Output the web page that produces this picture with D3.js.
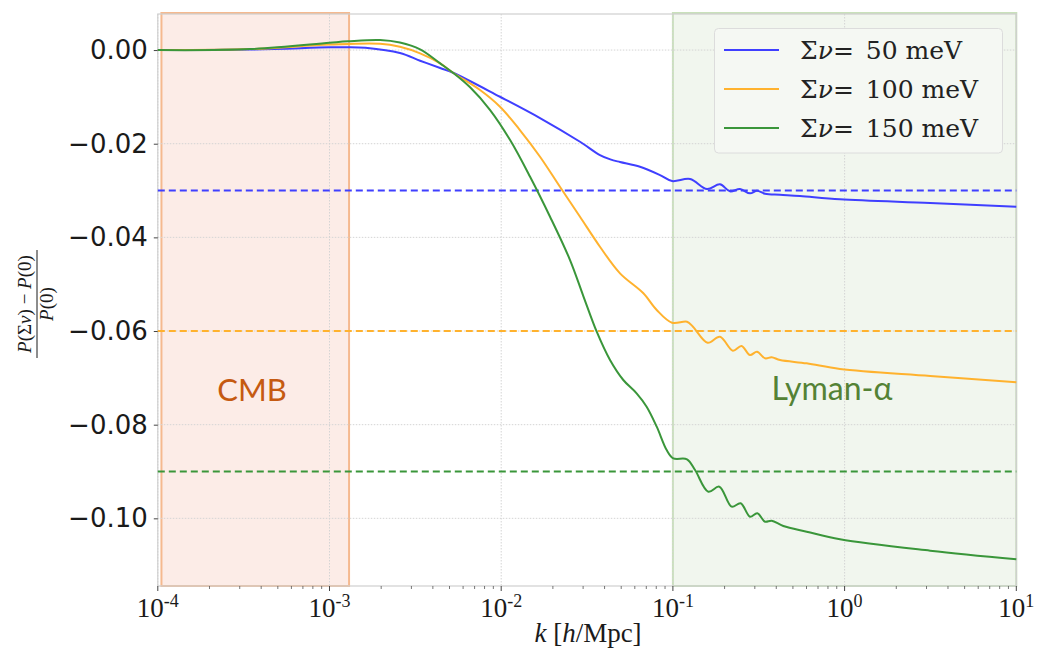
<!DOCTYPE html>
<html>
<head>
<meta charset="utf-8">
<script src="https://cdn.jsdelivr.net/npm/d3@7"></script>
<style>
  body { margin: 0; background: #fff; }
  svg { display: block; }
</style>
</head>
<body>
<svg id="chart" width="1038" height="653"></svg>
<script>
// Relative change of the matter power spectrum for three neutrino mass sums
const k50 = [1e-4, 3.44e-4, 1.0e-3, 1.28e-3, 1.62e-3, 2.57e-3, 3.37e-3, 4.41e-3, 5.24e-3, 9.84e-3, 0.01683, 0.02877, 0.0376, 0.0432, 0.0492, 0.0643, 0.0841, 0.0988, 0.1259, 0.1579, 0.188, 0.2149, 0.2459, 0.2812, 0.309, 0.3442, 0.4208, 0.55, 0.94, 3.15, 10];
const ratio50 = [0, 0.0001, 0.00058, 0.00062, 0.00047, -0.00064, -0.00228, -0.00384, -0.00485, -0.00997, -0.01452, -0.01958, -0.02242, -0.02335, -0.02391, -0.02492, -0.02669, -0.02797, -0.02754, -0.02968, -0.02867, -0.03017, -0.02968, -0.0306, -0.03004, -0.03068, -0.0309, -0.03117, -0.03188, -0.03267, -0.03346];

const k100 = [1e-4, 3.44e-4, 1.0e-3, 1.97e-3, 2.57e-3, 3.37e-3, 4.41e-3, 5.24e-3, 7.53e-3, 9.84e-3, 0.01285, 0.01683, 0.02198, 0.02877, 0.0376, 0.0492, 0.0671, 0.0805, 0.0988, 0.1208, 0.1309, 0.1593, 0.188, 0.2234, 0.251, 0.2812, 0.309, 0.3442, 0.3756, 0.4208, 0.6013, 0.94, 3.15, 10];
const ratio100 = [0, 0.0002, 0.00117, 0.00135, 0.0007, -0.0007, -0.00284, -0.00485, -0.00854, -0.01211, -0.01708, -0.02278, -0.02919, -0.0356, -0.042, -0.04768, -0.05189, -0.05552, -0.05823, -0.05801, -0.05908, -0.0625, -0.06122, -0.0642, -0.0632, -0.06512, -0.06442, -0.06583, -0.06561, -0.06619, -0.0669, -0.06811, -0.06961, -0.07095];

const k150 = [1e-4, 3.44e-4, 1.0e-3, 1.28e-3, 1.97e-3, 2.57e-3, 3.37e-3, 4.41e-3, 5.24e-3, 6.59e-3, 8.62e-3, 0.01127, 0.01473, 0.01925, 0.02517, 0.03008, 0.036, 0.04303, 0.05141, 0.06147, 0.07031, 0.0805, 0.092, 0.1005, 0.1208, 0.1346, 0.1608, 0.1863, 0.2199, 0.2481, 0.2812, 0.3101, 0.3442, 0.3756, 0.4396, 0.6013, 0.94, 3.15, 10];
const ratio150 = [0, 0.0002, 0.00156, 0.00186, 0.00214, 0.0016, 0.00015, -0.00284, -0.00485, -0.00796, -0.01281, -0.01922, -0.02705, -0.03559, -0.04484, -0.05253, -0.06015, -0.06619, -0.07046, -0.0733, -0.07616, -0.08043, -0.08541, -0.08718, -0.08739, -0.08968, -0.09431, -0.09324, -0.09751, -0.09679, -0.09965, -0.09892, -0.10072, -0.1005, -0.10163, -0.10285, -0.10448, -0.10691, -0.10875];

const massLabels = ["50 meV", "100 meV", "150 meV"];
const lineColors = ["#3f3fff", "#ffb22e", "#3a963a"];
const sensitivityLevels = [-0.03, -0.06, -0.09];

const yTickValues = [0, -0.02, -0.04, -0.06, -0.08, -0.10];
const xTickValues = [1e-4, 1e-3, 1e-2, 1e-1, 1e0, 1e1];
const xTickExponents = ["-4", "-3", "-2", "-1", "0", "1"];

const cmbRange = [1.05e-4, 1.3e-3];
const lymanRange = [0.1, 10];

const series = [
  { k: k50, r: ratio50 },
  { k: k100, r: ratio100 },
  { k: k150, r: ratio150 }
];

const svg = d3.select("#chart");
const plot = { left: 157.8, right: 1016.3, top: 14, bottom: 586 };

const x = d3.scaleLog().domain([1e-4, 10]).range([plot.left, plot.right]);
const y = d3.scaleLinear().domain([-0.11445, 0.0077]).range([plot.bottom, plot.top]);

// Shaded survey ranges
function band(range, fill, stroke) {
  svg.append("rect")
    .attr("x", x(range[0]))
    .attr("y", plot.top - 1)
    .attr("width", x(range[1]) - x(range[0]))
    .attr("height", plot.bottom - plot.top + 1)
    .attr("fill", fill)
    .attr("stroke", stroke)
    .attr("stroke-width", 2);
}
band(cmbRange, "#fcece7", "#f5b98f");
band(lymanRange, "#f1f6ee", "#c9e1bb");

// Grid
const grid = svg.append("g");
grid.selectAll("line.gx").data(xTickValues).join("line")
  .attr("x1", d => x(d)).attr("x2", d => x(d))
  .attr("y1", plot.top).attr("y2", plot.bottom)
  .attr("stroke", "#d4d4d4").attr("stroke-width", 1).attr("stroke-dasharray", "1.5,1.5");
grid.selectAll("line.gy").data(yTickValues).join("line")
  .attr("x1", plot.left).attr("x2", plot.right)
  .attr("y1", d => y(d)).attr("y2", d => y(d))
  .attr("stroke", "#d4d4d4").attr("stroke-width", 1).attr("stroke-dasharray", "1.5,1.5");

// Spines
svg.append("rect")
  .attr("x", plot.left).attr("y", plot.top)
  .attr("width", plot.right - plot.left).attr("height", plot.bottom - plot.top)
  .attr("fill", "none").attr("stroke", "#cfcfcf").attr("stroke-width", 1.2);

// Y axis
const yAxis = d3.axisLeft(y).tickValues(yTickValues).tickSize(4).tickPadding(6)
  .tickFormat(d => d3.format(".2f")(d).replace("-", "\u2212"));
const gy = svg.append("g").attr("transform", `translate(${plot.left},0)`).call(yAxis);
gy.select(".domain").remove();
gy.selectAll(".tick line").attr("stroke", "#444");
gy.selectAll(".tick text")
  .attr("font-family", "DejaVu Sans").attr("font-size", 26).attr("fill", "#1a1a1a");

// X axis: decades with minor ticks
const minorTicks = [];
for (let e = -4; e < 1; e++) for (let m = 2; m <= 9; m++) minorTicks.push(m * Math.pow(10, e));
const gx = svg.append("g").attr("transform", `translate(0,${plot.bottom})`);
gx.selectAll("line.minor").data(minorTicks).join("line")
  .attr("x1", d => x(d)).attr("x2", d => x(d)).attr("y1", 0).attr("y2", 3)
  .attr("stroke", "#555").attr("stroke-width", 0.8);
gx.selectAll("line.major").data(xTickValues).join("line")
  .attr("x1", d => x(d)).attr("x2", d => x(d)).attr("y1", 0).attr("y2", 5)
  .attr("stroke", "#444").attr("stroke-width", 1);
const xLabels = gx.selectAll("text").data(xTickValues).join("text")
  .attr("x", d => x(d)).attr("y", 31)
  .attr("text-anchor", "middle")
  .attr("font-family", "Liberation Serif").attr("font-size", 27).attr("fill", "#1a1a1a");
xLabels.append("tspan").text("10");
xLabels.append("tspan").attr("dy", -10).attr("font-size", 18).text((d, i) => xTickExponents[i]);

// Sensitivity thresholds
svg.selectAll("line.level").data(sensitivityLevels).join("line")
  .attr("x1", plot.left).attr("x2", plot.right)
  .attr("y1", d => y(d)).attr("y2", d => y(d))
  .attr("stroke", (d, i) => lineColors[i]).attr("stroke-width", 2)
  .attr("stroke-dasharray", "7,4");

// Curves
const line = d3.line().x(d => x(d[0])).y(d => y(d[1])).curve(d3.curveCatmullRom.alpha(0.5));
series.forEach((s, i) => {
  svg.append("path")
    .attr("d", line(s.k.map((kv, j) => [kv, s.r[j]])))
    .attr("fill", "none").attr("stroke", lineColors[i]).attr("stroke-width", 2);
});

// Region labels
svg.append("text").attr("x", 252).attr("y", 401).attr("text-anchor", "middle")
  .attr("font-family", "Lato").attr("font-size", 31).attr("fill", "#c55a11").text("CMB");
svg.append("text").attr("x", 832).attr("y", 400).attr("text-anchor", "middle")
  .attr("font-family", "Lato").attr("font-size", 32).attr("fill", "#548235").text("Lyman-\u03b1");

// Legend
const legend = svg.append("g");
legend.append("rect").attr("x", 714.5).attr("y", 28.5).attr("width", 288).attr("height", 124.5)
  .attr("rx", 4).attr("fill", "#f5f8f3").attr("stroke", "#dcdcdc");
massLabels.forEach((lab, i) => {
  const ly = 50 + i * 39;
  legend.append("line").attr("x1", 724).attr("x2", 779).attr("y1", ly).attr("y2", ly)
    .attr("stroke", lineColors[i]).attr("stroke-width", 2);
  const t = legend.append("text").attr("x", 800).attr("y", ly + 9)
    .attr("font-family", "DejaVu Serif").attr("font-size", 25).attr("fill", "#222");
  t.append("tspan").text("\u03a3");
  t.append("tspan").attr("font-style", "italic").text("\u03bd");
  t.append("tspan").text("=");
  t.append("tspan").attr("dx", 12).text(lab);
});

// Axis titles
const xt = svg.append("text").attr("x", 588).attr("y", 642).attr("text-anchor", "middle")
  .attr("font-family", "Liberation Serif").attr("font-size", 27).attr("fill", "#1a1a1a");
xt.append("tspan").attr("font-style", "italic").text("k");
xt.append("tspan").text(" [");
xt.append("tspan").attr("font-style", "italic").text("h");
xt.append("tspan").text("/Mpc]");

const yt = svg.append("g").attr("transform", "translate(37,304) rotate(-90)");
const num = yt.append("text").attr("x", 0).attr("y", -6).attr("text-anchor", "middle")
  .attr("font-family", "Liberation Serif").attr("font-size", 19).attr("fill", "#1a1a1a");
num.append("tspan").attr("font-style", "italic").text("P");
num.append("tspan").text("(\u03a3");
num.append("tspan").attr("font-style", "italic").text("\u03bd");
num.append("tspan").text(") \u2212 ");
num.append("tspan").attr("font-style", "italic").text("P");
num.append("tspan").text("(0)");
yt.append("line").attr("x1", -54).attr("x2", 54).attr("y1", 0).attr("y2", 0)
  .attr("stroke", "#1a1a1a").attr("stroke-width", 1);
const den = yt.append("text").attr("x", 0).attr("y", 16).attr("text-anchor", "middle")
  .attr("font-family", "Liberation Serif").attr("font-size", 19).attr("fill", "#1a1a1a");
den.append("tspan").attr("font-style", "italic").text("P");
den.append("tspan").text("(0)");
</script>
</body>
</html>
